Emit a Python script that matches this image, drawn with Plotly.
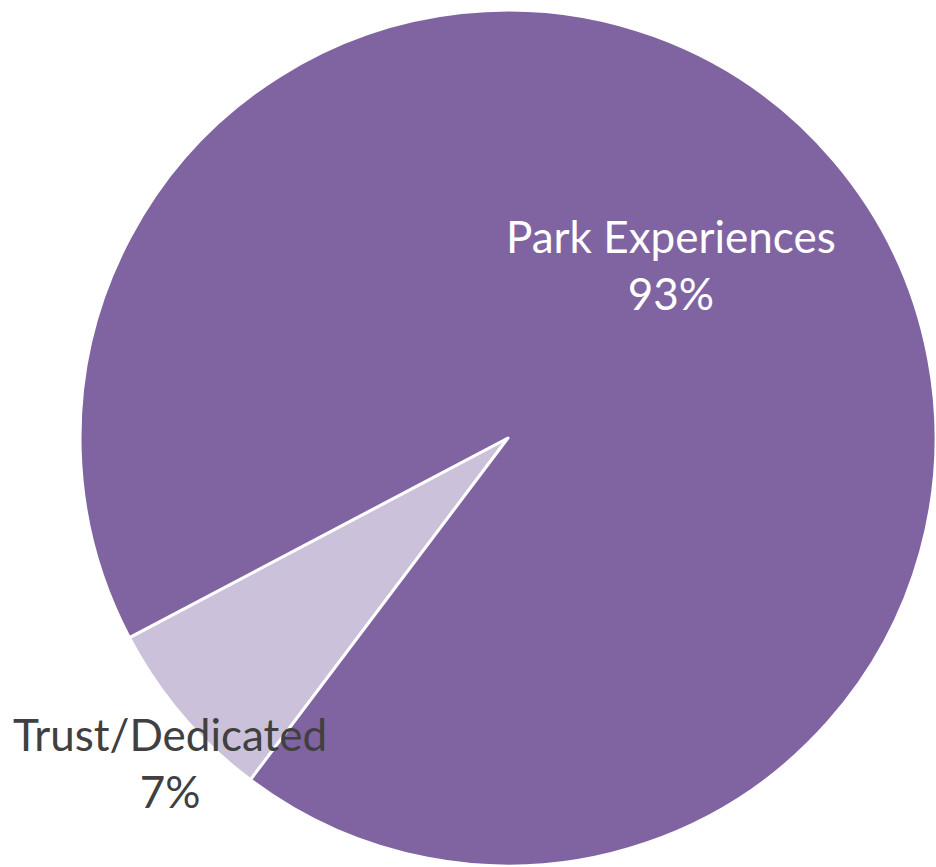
import plotly.graph_objects as go

# Funding sources
labels = ["Trust/Dedicated", "Park Experiences"]
values = [7, 93]
colors = ["#CBC1DA", "#8064A2"]
label_colors = ["#404040", "#FFFFFF"]

W, H = 936, 867
cx, cy, r = 508, 438, 428  # pie centre (px from top-left) and radius

fig = go.Figure(
    go.Pie(
        labels=labels,
        values=values,
        sort=False,
        direction="clockwise",
        rotation=217,
        textinfo="none",
        hoverinfo="label+percent",
        marker=dict(colors=colors, line=dict(color="#FFFFFF", width=3)),
        domain=dict(
            x=[(cx - r) / W, min(1.0, (cx + r) / W)],
            y=[max(0.0, (H - cy - r) / H), (H - cy + r) / H],
        ),
        showlegend=False,
    )
)

total = sum(values)
label_pos = [(170, 762), (671, 265)]  # label block centres in px
for lab, val, col, (lx, ly) in zip(labels, values, label_colors, label_pos):
    fig.add_annotation(
        x=lx / W,
        y=1 - ly / H,
        xref="paper",
        yref="paper",
        text=f"{lab}<br>{round(val / total * 100)}%",
        showarrow=False,
        xanchor="center",
        yanchor="middle",
        align="center",
        font=dict(family="Lato", size=44, color=col),
    )

fig.update_layout(
    width=W,
    height=H,
    margin=dict(l=0, r=0, t=0, b=0),
    paper_bgcolor="#FFFFFF",
    plot_bgcolor="#FFFFFF",
)

fig.write_html("out.html")
